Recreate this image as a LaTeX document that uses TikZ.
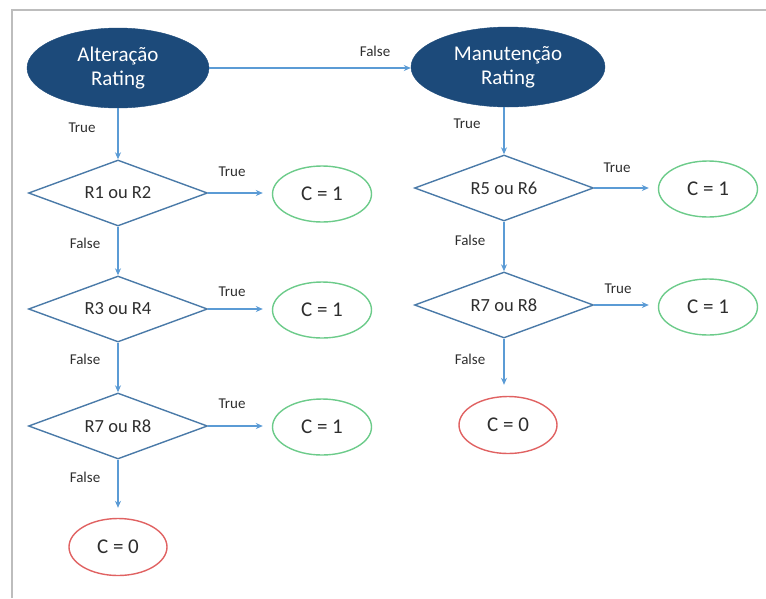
\documentclass[tikz,border=0pt]{standalone}
\usepackage{fontspec}
\setmainfont{Carlito}
\usetikzlibrary{shapes.geometric,arrows.meta}
\definecolor{darkblue}{HTML}{1C4A7A}
\definecolor{diastroke}{HTML}{4A7AA8}
\definecolor{arrowblue}{HTML}{5B9BD5}
\definecolor{okgreen}{HTML}{6CCB8A}
\definecolor{badred}{HTML}{E06262}
\definecolor{lbltext}{HTML}{2E2E2E}
\definecolor{framegray}{HTML}{BDBDBD}
\tikzset{
  startnode/.style={ellipse, fill=darkblue, draw=darkblue, text=white, inner sep=0pt,
    minimum width=#1, minimum height=80pt, align=center, font=\fontsize{21}{24}\selectfont},
  decision/.style={diamond, draw=diastroke, line width=1.4pt, inner sep=0pt, aspect=2.7,
    minimum width=179pt, minimum height=66pt, text=lbltext, font=\fontsize{18.5}{22}\selectfont},
  yesnode/.style={ellipse, draw=okgreen, line width=1.4pt, inner sep=0pt,
    minimum width=99pt, minimum height=56pt, text=lbltext, font=\fontsize{21}{24}\selectfont},
  nonode/.style={ellipse, draw=badred, line width=1.4pt, inner sep=0pt,
    minimum width=98pt, minimum height=57pt, text=lbltext, font=\fontsize{21}{24}\selectfont},
  flow/.style={draw=arrowblue, line width=1.3pt, -{Stealth[length=7pt,width=6pt]}},
  lbl/.style={text=lbltext, font=\fontsize{15}{18}\selectfont, inner sep=0pt}
}
\begin{document}
\begin{tikzpicture}[x=1pt,y=-1pt]
\useasboundingbox (0,0) rectangle (766,598);
\draw[framegray, line width=1.5pt] (12,598) -- (12,10) -- (766,10);

% left column
\node[startnode=182pt] (A) at (118,68) {Alteração\\Rating};
\node[decision] (D1) at (118,193) {R1 ou R2};
\node[decision] (D2) at (118,309) {R3 ou R4};
\node[decision] (D3) at (118,426) {R7 ou R8};
\node[yesnode] (C1) at (322,194) {C = 1};
\node[yesnode] (C2) at (322,310) {C = 1};
\node[yesnode] (C3) at (322,427) {C = 1};
\node[nonode] (C0) at (118,547) {C = 0};

% right column
\node[startnode=194pt] (M) at (508,67) {Manutenção\\Rating};
\node[decision] (D4) at (504,188) {R5 ou R6};
\node[decision] (D5) at (504,305) {R7 ou R8};
\node[yesnode] (C4) at (708,189) {C = 1};
\node[yesnode] (C5) at (708,307) {C = 1};
\node[nonode] (C6) at (508,425) {C = 0};

% connectors
\draw[flow] (A.east) -- (A.east -| M.west);
\draw[flow] (A.south) -- (D1.north);
\draw[flow] (D1.south) -- (D2.north);
\draw[flow] (D2.south) -- (D3.north);
\draw[flow, shorten >=10pt] (D3.south) -- (C0.north);
\draw[flow, shorten >=9pt] (D1.east) -- (D1.east -| C1.west);
\draw[flow, shorten >=9pt] (D2.east) -- (D2.east -| C2.west);
\draw[flow, shorten >=9pt] (D3.east) -- (D3.east -| C3.west);
\draw[flow] (D4.north |- M.south) -- (D4.north);
\draw[flow] (D4.south) -- (D5.north);
\draw[flow, shorten >=11pt] (D5.south) -- (D5.south |- C6.north);
\draw[flow, shorten >=9pt] (D4.east) -- (D4.east -| C4.west);
\draw[flow, shorten >=9pt] (D5.east) -- (D5.east -| C5.west);

% labels
\node[lbl] (lAM) at (375,51) {False};
\node[lbl] (lA) at (82,128) {True};
\node[lbl] (l1t) at (232,172) {True};
\node[lbl] (l1f) at (85,243) {False};
\node[lbl] (l2t) at (232,292) {True};
\node[lbl] (l2f) at (85,359) {False};
\node[lbl] (l3t) at (232,404) {True};
\node[lbl] (l3f) at (85,477) {False};
\node[lbl] (lM) at (467,124) {True};
\node[lbl] (l4t) at (617,168) {True};
\node[lbl] (l4f) at (470,240) {False};
\node[lbl] (l5t) at (618,289) {True};
\node[lbl] (l5f) at (470,359) {False};
\end{tikzpicture}
\end{document}
